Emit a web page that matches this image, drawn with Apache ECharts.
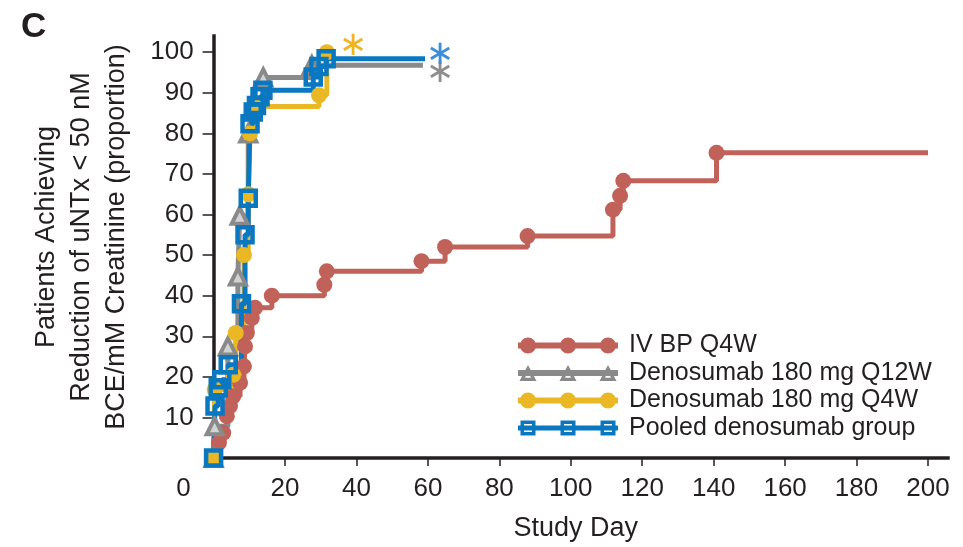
<!DOCTYPE html>
<html>
<head>
<meta charset="utf-8">
<script src="https://cdn.jsdelivr.net/npm/echarts@6/dist/echarts.min.js"></script>
<style>
html,body{margin:0;padding:0;background:#fff;}
#chart{width:963px;height:547px;}
</style>
</head>
<body>
<div id="chart"></div>
<script>
// ---- data ----
const seriesNames = ['IV BP Q4W', 'Denosumab 180 mg Q12W', 'Denosumab 180 mg Q4W', 'Pooled denosumab group'];

const ivbpDays   = [0, 1.5, 2.7, 3.7, 4.6, 5.5, 7.4, 8.5, 8.8, 9.3, 10.7, 11.6, 16.3, 31.0, 31.7, 58.2, 64.8, 87.9, 111.8, 113.8, 114.7, 140.8];
const ivbpValues = [0, 3.8, 6.2, 10.3, 12.8, 15.2, 18.5, 22.6, 27.5, 30.8, 34.5, 37.0, 40.0, 42.7, 46.0, 48.5, 52.0, 54.7, 61.2, 64.6, 68.3, 75.2];
const ivbpEndDay = 200;

const q12wDays   = [0, 0.3, 4.0, 6.8, 7.3, 9.7, 10.7, 13.9, 27.5];
const q12wValues = [0, 7.8, 27.5, 44.7, 59.7, 80.0, 85.7, 93.8, 96.8];
const q12wEndDay = 58.6;

const q4wDays   = [0, 0.3, 5.5, 6.2, 8.5, 9.7, 10.2, 11.5, 29.5, 31.7];
const q4wValues = [0, 16.9, 20.5, 30.8, 50.0, 65.0, 80.0, 86.6, 89.4, 100.0];
const q4wEndDay = null;

const pooledDays   = [0, 0.4, 1.3, 2.3, 4.1, 7.8, 8.8, 9.7, 10.2, 11.1, 12.0, 13.0, 13.8, 27.9, 29.5, 31.5];
const pooledValues = [0, 12.8, 17.3, 19.3, 23.0, 38.0, 55.0, 64.0, 82.4, 85.3, 86.9, 89.0, 90.6, 93.9, 96.5, 98.4];
const pooledEndDay = 59.2;

// asterisk annotations [day, value] for Q12W, Q4W, pooled
const starQ12W   = [63.4, 94.8];
const starQ4W    = [39.0, 101.4];
const starPooled = [63.4, 99.2];

const xTickLabels = [0, 20, 40, 60, 80, 100, 120, 140, 160, 180, 200];
const xTickMarks  = [20, 40, 60, 80, 100, 120, 140, 160, 180, 200];
const yTickLabels = [10, 20, 30, 40, 50, 60, 70, 80, 90, 100];

// ---- styles ----
const C_RED = '#C0625A', C_GRAY = '#8A8A8A', C_YEL = '#E9B824', C_BLUE = '#0A78C0';
const TXT = '#231F20';
const FONT = "'Liberation Sans', Arial, sans-serif";

function build(days, values, endDay) {
  const d = days.map((x, i) => [x, values[i]]);
  if (endDay != null) d.push({ value: [endDay, values[values.length - 1]], symbol: 'none' });
  return d;
}

// legend icons: line with three symbols
function circ(cx) { return `M${cx-8},8 A8,8 0 1,1 ${cx+8},8 A8,8 0 1,1 ${cx-8},8 Z `; }
function tri(cx) { return `M${cx},0 L${cx+8.5},16 L${cx-8.5},16 Z M${cx},6.2 L${cx-3.0},12.8 L${cx+3.0},12.8 Z `; }
function sq(cx) { return `M${cx-7.5},0.5 L${cx+7.5},0.5 L${cx+7.5},15.5 L${cx-7.5},15.5 Z M${cx-4},4 L${cx-4},12 L${cx+4},12 L${cx+4},4 Z `; }
const lineBar = 'M0,5 L100,5 L100,11 L0,11 Z ';
const iconCircle = 'path://' + lineBar + circ(10) + circ(50) + circ(90);
const iconTri = 'path://' + lineBar + tri(10) + tri(50) + tri(90);
const iconSq = 'path://M0,5.5 L100,5.5 L100,10.5 L0,10.5 Z ' + sq(10) + sq(50) + sq(90);

function star(pos, color) {
  return {
    symbol: 'circle', symbolSize: 1, silent: true,
    itemStyle: { color: 'rgba(0,0,0,0)' },
    data: [{ coord: pos }],
    label: { show: true, position: 'inside', formatter: '\u2217', fontSize: 34, fontFamily: 'DejaVu Sans', color: color, offset: [0, 0] }
  };
}

const chart = echarts.init(document.getElementById('chart'), null, { renderer: 'canvas' });
const option = {
  animation: false,
  backgroundColor: '#fff',
  title: {
    text: 'C', left: 16, top: 5,
    textStyle: { fontSize: 35, fontWeight: 'bold', color: TXT, fontFamily: FONT }
  },
  legend: {
    orient: 'vertical', left: 513, top: 328,
    itemWidth: 100, itemHeight: 17, itemGap: 2.5,
    textStyle: { fontSize: 25, color: TXT, fontFamily: FONT, lineHeight: 17, padding: [0, 0, 0, 6] },
    data: [
      { name: seriesNames[0], icon: iconCircle, itemStyle: { color: C_RED, borderWidth: 0 } },
      { name: seriesNames[1], icon: iconTri, itemStyle: { color: C_GRAY, borderWidth: 0 } },
      { name: seriesNames[2], icon: iconCircle, itemStyle: { color: C_YEL, borderWidth: 0 } },
      { name: seriesNames[3], icon: iconSq, itemStyle: { color: C_BLUE, borderWidth: 0 } }
    ]
  },
  grid: { left: 213.6, right: 15, top: 36, bottom: 88, containLabel: false },
  xAxis: {
    type: 'value', min: 0, max: 205.6,
    name: 'Study Day', nameLocation: 'middle', nameGap: 57,
    nameTextStyle: { fontSize: 27, color: TXT, fontFamily: FONT, padding: [0, 10, 0, 0] },
    axisLine: { lineStyle: { color: TXT, width: 3.5, cap: 'square' } },
    axisTick: { show: true, customValues: xTickMarks, length: 8, lineStyle: { color: TXT, width: 1.5 } },
    axisLabel: {
      customValues: xTickLabels, margin: 18, fontSize: 26, color: TXT, fontFamily: FONT,
      formatter: v => v === 0 ? '{z|0}' : String(v),
      rich: { z: { fontSize: 26, color: TXT, fontFamily: FONT, padding: [0, 60, 0, 0] } }
    },
    splitLine: { show: false }
  },
  yAxis: {
    type: 'value', min: 0, max: 104,
    name: 'Patients Achieving\nReduction of uNTx < 50 nM\nBCE/mM Creatinine (proportion)',
    nameLocation: 'middle', nameGap: 80, nameRotate: 90,
    nameTextStyle: { fontSize: 27, lineHeight: 35, color: TXT, fontFamily: FONT, align: 'center', padding: [0, 0, 0, 20] },
    axisLine: { lineStyle: { color: TXT, width: 3.5, cap: 'square' } },
    axisTick: { show: true, customValues: yTickLabels, length: 11, lineStyle: { color: TXT, width: 1.5 } },
    axisLabel: { customValues: yTickLabels, margin: 20, fontSize: 26, color: TXT, fontFamily: FONT },
    splitLine: { show: false }
  },
  series: [
    {
      name: seriesNames[0], type: 'line', step: 'end', clip: false,
      data: build(ivbpDays, ivbpValues, ivbpEndDay),
      color: C_RED,
      symbol: 'circle', symbolSize: 16, showAllSymbol: true,
      itemStyle: { color: C_RED },
      lineStyle: { color: C_RED, width: 5 }
    },
    {
      name: seriesNames[1], type: 'line', step: 'end', clip: false,
      data: build(q12wDays, q12wValues, q12wEndDay),
      color: C_GRAY,
      symbol: 'triangle', symbolSize: 16, showAllSymbol: true,
      itemStyle: { color: 'rgba(210,210,210,1)', borderColor: C_GRAY, borderWidth: 4 },
      lineStyle: { color: C_GRAY, width: 5 },
      markPoint: star(starQ12W, '#8D8D8D')
    },
    {
      name: seriesNames[2], type: 'line', step: 'end', clip: false,
      data: build(q4wDays, q4wValues, q4wEndDay),
      color: C_YEL,
      symbol: 'circle', symbolSize: 16, showAllSymbol: true,
      itemStyle: { color: C_YEL },
      lineStyle: { color: C_YEL, width: 5 },
      markPoint: star(starQ4W, '#F0B422')
    },
    {
      name: seriesNames[3], type: 'line', step: 'end', clip: false,
      data: build(pooledDays, pooledValues, pooledEndDay),
      color: C_BLUE,
      symbol: 'rect', symbolSize: 15, showAllSymbol: true,
      itemStyle: { color: 'rgba(255,255,255,0)', borderColor: C_BLUE, borderWidth: 4.5 },
      lineStyle: { color: C_BLUE, width: 5 },
      markPoint: star(starPooled, '#3C8DDC')
    }
  ]
};
chart.setOption(option);
</script>
</body>
</html>
